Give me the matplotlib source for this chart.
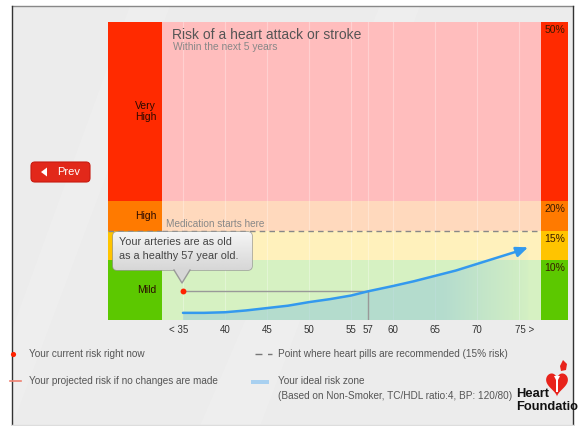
import numpy as np
import matplotlib
matplotlib.use("Agg")
import matplotlib.pyplot as plt
from matplotlib.patches import FancyBboxPatch, Polygon, Rectangle

plt.rcParams['font.family'] = ['Liberation Sans', 'DejaVu Sans']

# risk bands (% risk of heart attack / stroke within 5 years)
band_edges = [0, 10, 15, 20, 50]
band_names = ["Mild", "", "High", "Very\nHigh"]
band_strong = ["#5cc800", "#ffc400", "#ff7a00", "#ff2a00"]
band_pale = ["#d6f1c2", "#fff1bc", "#ffd9bd", "#ffbdbd"]
pct_labels = ["10%", "15%", "20%", "50%"]

tick_ages = [35, 40, 45, 50, 55, 57, 60, 65, 70, 75]
tick_labels = ["< 35", "40", "45", "50", "55", "57", "60", "65", "70", "75 >"]

# projected risk if nothing changes
ages = [35, 37.5, 40, 42.5, 45, 47.5, 50, 52.5, 55, 57, 60, 62.5, 65, 67.5, 70, 72.5, 75, 76.1]
risk = [1.2, 1.2, 1.3, 1.6, 2.0, 2.4, 3.0, 3.5, 4.1, 4.8, 5.7, 6.5, 7.4, 8.3, 9.4, 10.5, 11.6, 12.2]

current_age = 35
current_risk = 4.8
heart_age = 57
pills_risk = 15

W, H = 578, 426


def fa(x0, y0, x1, y1):
    # pixel box (top-left origin) -> figure fraction
    return [x0 / W, 1 - y1 / H, (x1 - x0) / W, (y1 - y0) / H]


fig = plt.figure(figsize=(5.78, 4.26), dpi=100, facecolor='white')

# background panel
bg = fig.add_axes([0, 0, 1, 1], zorder=0)
bg.set_xlim(0, W)
bg.set_ylim(H, 0)
bg.axis('off')
bg.add_patch(Rectangle((12, 6), 561, 420, facecolor='#ececec', edgecolor='none'))
bg.add_patch(Polygon([(12, 426), (12, 330), (130, 6), (170, 6)], closed=True,
                     facecolor='white', alpha=0.12, edgecolor='none'))
bg.add_patch(Polygon([(200, 426), (260, 426), (420, 6), (380, 6)], closed=True,
                     facecolor='white', alpha=0.12, edgecolor='none'))
bg.plot([12, 573], [6, 6], color='#888888', lw=1)
bg.plot([12, 12], [6, 426], color='#333333', lw=1)
bg.plot([573, 573], [6, 426], color='#333333', lw=1)
bg.plot([12, 573], [424.5, 424.5], color='#dddddd', lw=1)

# left coloured band with names
axl = fig.add_axes(fa(108, 22, 162, 320), zorder=1)
for lo, hi, c, name in zip(band_edges[:-1], band_edges[1:], band_strong, band_names):
    axl.axhspan(lo, hi, color=c, lw=0)
    if name:
        axl.text(0.89, (lo + hi) / 2, name, ha='right', va='center', fontsize=7.5,
                 color='#2a0a00', linespacing=1.15, multialignment='right')
axl.axhline(pills_risk, color='#888888', lw=1, ls=(0, (4, 3)))
axl.set_xlim(0, 1)
axl.set_ylim(0, 50)
axl.axis('off')

# right coloured band with percentages
axr = fig.add_axes(fa(541, 22, 568, 320), zorder=1)
for lo, hi, c, lab in zip(band_edges[:-1], band_edges[1:], band_strong, pct_labels):
    axr.axhspan(lo, hi, color=c, lw=0)
    axr.text(0.5, hi - 1.35, lab, ha='center', va='center', fontsize=7.5, color='#3a1a00')
axr.set_xlim(0, 1)
axr.set_ylim(0, 50)
axr.axis('off')

# main chart
ax = fig.add_axes(fa(162, 22, 541, 320), zorder=1)
for lo, hi, c in zip(band_edges[:-1], band_edges[1:], band_pale):
    ax.axhspan(lo, hi, color=c, lw=0)
for a in tick_ages:
    ax.axvline(a, color='white', lw=0.8, alpha=0.3)
ax.axhline(pills_risk, color='#888888', lw=1, ls=(0, (4, 3)), zorder=3)
ax.text(33.0, 15.6, "Medication starts here", fontsize=7.2, color='#888888', va='baseline')

# ideal zone shading under the curve, fading to the right
poly = ax.fill_between(ages, 0, risk, facecolor='none', edgecolor='none')
xs = np.linspace(35, 77.6, 300)
img = np.zeros((1, len(xs), 4))
img[..., 0], img[..., 1], img[..., 2] = 0.62, 0.81, 0.84
img[0, :, 3] = np.clip((77.0 - xs) / 11.0, 0, 1) * 0.6
im = ax.imshow(img, extent=[35, 77.6, 0, 13], aspect='auto', origin='lower',
               zorder=2, interpolation='bilinear')
im.set_clip_path(poly.get_paths()[0], transform=ax.transData)

ax.plot(ages[:-1], risk[:-1], color='#3399ee', lw=1.8, zorder=4, solid_capstyle='round')
ax.annotate('', xy=(ages[-1], risk[-1]), xytext=(ages[-2], risk[-2]),
            arrowprops=dict(arrowstyle='-|>,head_length=0.7,head_width=0.3', color='#3399ee',
                            lw=1.8, shrinkA=0, shrinkB=0), zorder=4)

ax.plot([current_age, heart_age], [current_risk, current_risk], color='#999999', lw=1, zorder=3)
ax.plot([heart_age, heart_age], [current_risk, 0], color='#999999', lw=1, zorder=3)
ax.scatter([current_age], [current_risk], s=18, color='#ff2200', zorder=5, linewidths=0)

for a, lab in zip(tick_ages, tick_labels):
    dx = -3 if lab.startswith('<') else (4 if lab.endswith('>') else 0)
    ax.annotate(lab, xy=(a, 0), xycoords=('data', 'axes fraction'), xytext=(dx, -7.5),
                textcoords='offset points', ha='center', va='center', fontsize=7,
                color='#333333', annotation_clip=False)

ax.set_xlim(32.5, 77.64)
ax.set_ylim(0, 50)
ax.axis('off')

# overlay: titles, callout, button, legend, logo
ov = fig.add_axes([0, 0, 1, 1], zorder=3)
ov.set_xlim(0, W)
ov.set_ylim(H, 0)
ov.axis('off')
ov.patch.set_alpha(0)

ov.text(172, 35, "Risk of a heart attack or stroke", fontsize=10, color='#555555', va='center')
ov.text(173, 47, "Within the next 5 years", fontsize=7.4, color='#888888', va='center')

# callout bubble
box = FancyBboxPatch((113, 232), 139, 38, boxstyle='round,pad=0,rounding_size=4',
                     facecolor='#e4e4e4', edgecolor='#999999', lw=1)
ov.add_patch(box)
grad = np.linspace(0.96, 0.84, 50).reshape(-1, 1) * np.ones((1, 2))
gi = ov.imshow(grad, extent=[113, 252, 270, 232], cmap='gray', vmin=0, vmax=1,
               aspect='auto', origin='upper', zorder=2.1)
gi.set_clip_path(box)
ov.add_patch(Polygon([(174, 269), (190, 269), (182, 283)], closed=True,
                     facecolor='#d7d7d7', edgecolor='none', zorder=2.2))
ov.plot([174, 182, 190], [270, 283, 270], color='#999999', lw=1, zorder=2.3)
ov.set_xlim(0, W)
ov.set_ylim(H, 0)
ov.text(119, 242, "Your arteries are as old", fontsize=7.8, color='#444444', va='center', zorder=3)
ov.text(119, 256, "as a healthy 57 year old.", fontsize=7.8, color='#444444', va='center', zorder=3)

# Prev button
ov.add_patch(FancyBboxPatch((31, 162), 59, 20, boxstyle='round,pad=0,rounding_size=4',
                            facecolor='#e2281a', edgecolor='#c81a10', lw=0.8))
ov.add_patch(Polygon([(41, 172), (47, 167.5), (47, 176.5)], closed=True, facecolor='white',
                     edgecolor='none'))
ov.text(57, 172, "Prev", fontsize=8, color='white', va='center')

# legend
leg_col = '#555555'
ov.scatter([13], [354], s=14, color='#ff2200', linewidths=0, zorder=4)
ov.text(29, 354, "Your current risk right now", fontsize=7.2, color=leg_col, va='center')
ov.plot([10, 21], [381, 381], color='#f08070', lw=1.2)
ov.text(29, 381, "Your projected risk if no changes are made", fontsize=7.2, color=leg_col,
        va='center')
ov.plot([255, 272], [354, 354], color='#777777', lw=1, ls=(0, (5, 4)))
ov.text(278, 354, "Point where heart pills are recommended (15% risk)", fontsize=7.2,
        color=leg_col, va='center')
ov.add_patch(Rectangle((251, 380), 18, 3.5, facecolor='#a8d0f0', edgecolor='none'))
ov.text(278, 381, "Your ideal risk zone", fontsize=7.2, color=leg_col, va='center')
ov.text(278, 396, "(Based on Non-Smoker, TC/HDL ratio:4, BP: 120/80)", fontsize=7.2,
        color=leg_col, va='center')

# Heart Foundation logo (cut off by the right edge, as in the original)
t = np.linspace(0, 2 * np.pi, 120)
hx = 557 + 16 * np.sin(t) ** 3 * 0.68
hy = 383 - (13 * np.cos(t) - 5 * np.cos(2 * t) - 2 * np.cos(3 * t) - np.cos(4 * t)) * 0.8
ov.add_patch(Polygon(np.column_stack([hx, hy]), closed=True, facecolor='#e8231b',
                     edgecolor='none'))
ov.add_patch(Polygon([(563, 360), (567, 364), (566, 370), (561, 371), (560, 366)], closed=True,
                     facecolor='#e8231b', edgecolor='none'))
ov.add_patch(Polygon([(554, 376), (560, 376), (558, 380), (558, 392), (556, 392), (556, 380)],
                     closed=True, facecolor='white', edgecolor='none'))
ov.text(516, 394, "Heart", fontsize=9.3, fontweight='bold', color='#111111', va='center')
ov.text(516, 407, "Foundation", fontsize=9.3, fontweight='bold', color='#111111', va='center')

fig.savefig('out.png', dpi=100, facecolor='white')
